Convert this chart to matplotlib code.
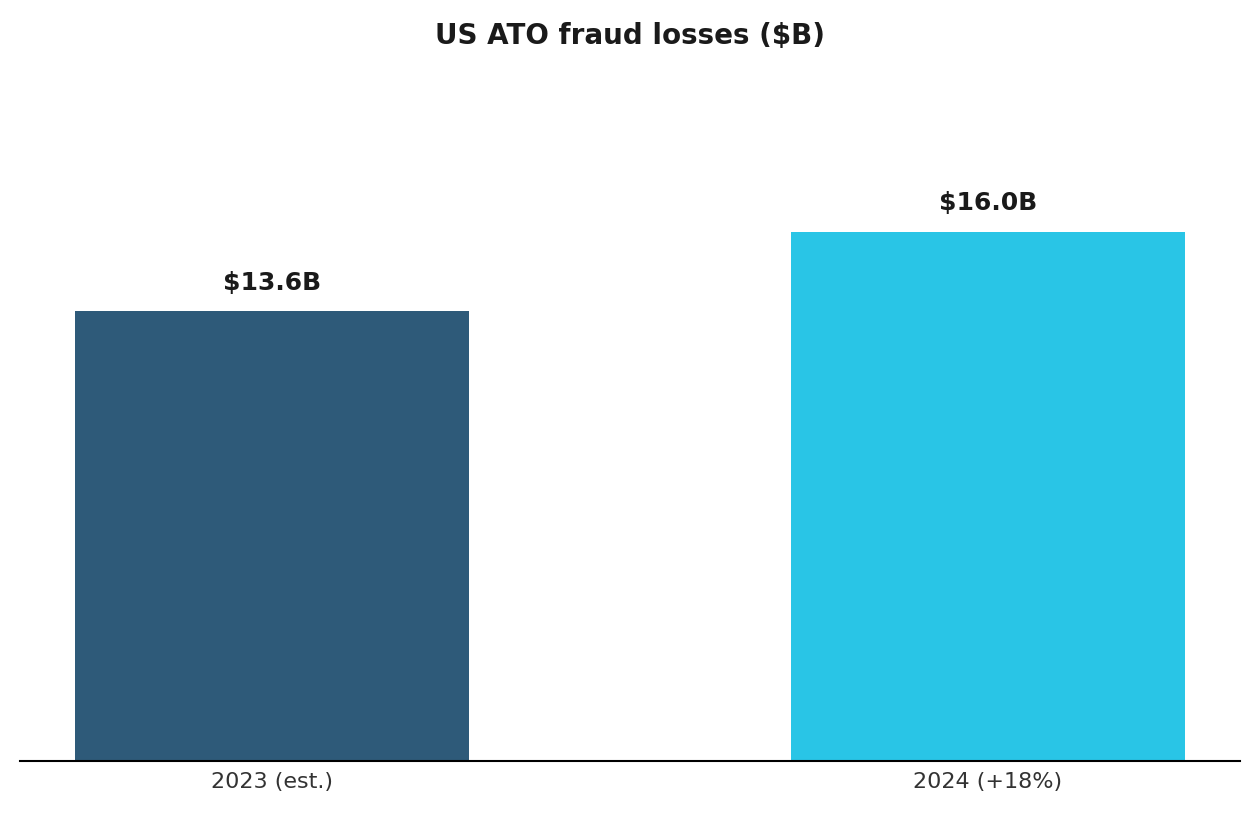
import matplotlib
matplotlib.use("Agg")
import matplotlib.pyplot as plt

categories = ["2023 (est.)", "2024 (+18%)"]
values = [13.6, 16.0]
labels = ["$13.6B", "$16.0B"]
colors = ["#2E5A79", "#29C5E6"]

fig = plt.figure(figsize=(12.6, 8.19), dpi=100)
ax = fig.add_axes([20/1260, 58/819, 1220/1260, 691/819])
x = range(len(categories))
ax.bar(x, values, width=0.55, color=colors)
for xi, v, l in zip(x, values, labels):
    ax.text(xi, v + 0.5, l, ha="center", va="bottom", fontsize=18, fontweight="bold", color="#1a1a1a")
ax.set_xlim(-0.352, 1.352)
ax.set_ylim(0, 20.9)
ax.set_xticks(list(x))
ax.set_xticklabels(categories, fontsize=16, color="#333333")
ax.tick_params(axis="x", length=0, pad=8)
ax.set_yticks([])
for s in ["top", "right", "left"]:
    ax.spines[s].set_visible(False)
ax.spines["bottom"].set_linewidth(1.5)
fig.text(0.5, 1 - 36/819, "US ATO fraud losses ($B)", ha="center", va="center", fontsize=20, fontweight="bold", color="#1a1a1a")
fig.savefig("out.png", dpi=100)
